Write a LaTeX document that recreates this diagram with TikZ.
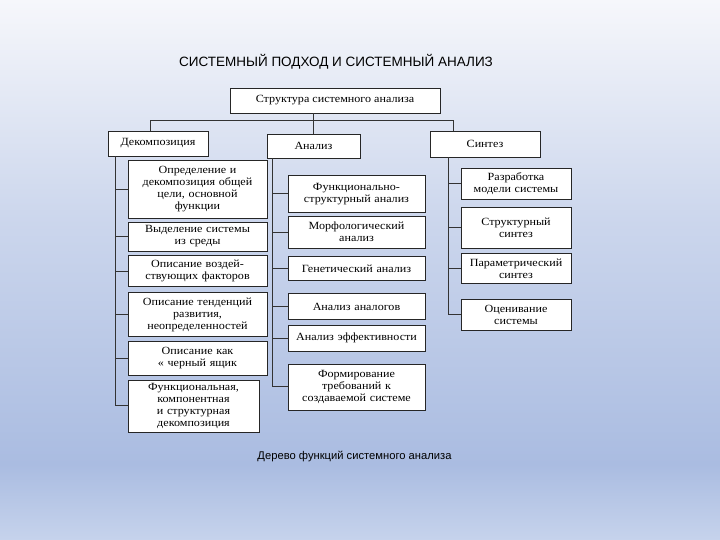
\documentclass[tikz,border=0pt]{standalone}
\usepackage{fontspec}
\setmainfont[FakeStretch=1.1]{Liberation Serif}
\newfontfamily\slidefont{Liberation Sans}
\usepackage{xcolor}
\usetikzlibrary{positioning,calc}

\definecolor{bgtop}{HTML}{F6F7FB}
\definecolor{bgmid}{HTML}{AABCE1}
\definecolor{bgbot}{HTML}{C6D3EC}
\pgfdeclareverticalshading{slidebg}{100bp}{color(0bp)=(bgbot); color(25bp)=(bgbot);
  color(32bp)=(bgmid); color(55bp)=(bgmid!55!bgtop); color(75bp)=(bgtop);
  color(100bp)=(bgtop)}

\begin{document}
\begin{tikzpicture}[x=1pt,y=-1pt,
  fbox/.style={rectangle, draw=black!85, fill=white, line width=0.7pt,
               inner sep=1pt, align=center, font=\fontsize{11}{12}\selectfont},
  colL/.style={fbox, minimum width=139pt, text width=135pt},
  colM/.style={fbox, minimum width=137pt, text width=133pt},
  colR/.style={fbox, minimum width=110pt, text width=106pt},
  wire/.style={draw=black!80, line width=1pt}
]
% background of the slide
\shade[shading=slidebg] (0,0) rectangle (720,540);
\useasboundingbox (0,0) rectangle (720,540);

\node[font=\slidefont\fontsize{13.5}{15}\selectfont] (title) at (336,62)
  {СИСТЕМНЫЙ ПОДХОД И СИСТЕМНЫЙ АНАЛИЗ};

% heads
\node[fbox, minimum width=210pt, minimum height=25pt] (struct) at (335,100.5)
  {Структура системного анализа};
\node[fbox, minimum width=100pt, minimum height=25pt] (dec) at (158,143.5) {Декомпозиция};
\node[fbox, minimum width=93pt,  minimum height=24pt] (ana) at (313.5,146) {Анализ};
\node[fbox, minimum width=110pt, minimum height=26pt] (syn) at (485,144) {Синтез};

% decomposition column
\node[colL, minimum height=58pt, anchor=north] (d1) at (197.5,160)
  {Определение и\\декомпозиция общей\\цели, основной\\функции};
\node[colL, minimum height=29pt, below=3pt of d1] (d2) {Выделение системы\\из среды};
\node[colL, minimum height=31pt, below=4pt of d2] (d3) {Описание воздей-\\ствующих факторов};
\node[colL, minimum height=44pt, below=5pt of d3] (d4) {Описание тенденций\\развития,\\неопределенностей};
\node[colL, minimum height=34pt, below=4pt of d4] (d5) {Описание как\\« черный ящик};
\node[colL, minimum height=52pt, minimum width=131pt, text width=127pt,
      below=4pt of d5.south west, anchor=north west] (d6)
  {Функциональная,\\компонентная\\и структурная\\декомпозиция};

% analysis column
\node[colM, minimum height=37pt, anchor=north] (a1) at (356.5,175)
  {Функционально-\\структурный анализ};
\node[colM, minimum height=32pt, below=3pt of a1]  (a2) {Морфологический\\анализ};
\node[colM, minimum height=24pt, below=8pt of a2]  (a3) {Генетический анализ};
\node[colM, minimum height=26pt, below=12pt of a3] (a4) {Анализ аналогов};
\node[colM, minimum height=26pt, below=5pt of a4]  (a5) {Анализ эффективности};
\node[colM, minimum height=46pt, below=12pt of a5] (a6)
  {Формирование\\требований к\\создаваемой системе};

% synthesis column
\node[colR, minimum height=31pt, anchor=north] (s1) at (516,168)
  {Разработка\\модели системы};
\node[colR, minimum height=41pt, below=7pt of s1]  (s2) {Структурный\\синтез};
\node[colR, minimum height=30pt, below=5pt of s2]  (s3) {Параметрический\\синтез};
\node[colR, minimum height=31pt, below=15pt of s3] (s4) {Оценивание\\системы};

\node[font=\slidefont\fontsize{11.2}{13}\selectfont] (cap) at (354.5,457)
  {Дерево функций системного анализа};

% connectors
\coordinate (busL) at (150,121);
\coordinate (busR) at (453,121);
\coordinate (trL) at (115,0);
\coordinate (trM) at (272,0);
\coordinate (trR) at (448,0);

\draw[wire] (busL |- dec.north) -- (busL) -- (busR) -- (busR |- syn.north);
\draw[wire] (struct.south -| ana) -- (ana.north);

\draw[wire] (trL |- dec.south) -- (trL |- d6.west);
\foreach \b in {d1,d2,d3,d4,d5,d6}
  \draw[wire] (trL |- \b.west) -- (\b.west);

\draw[wire] (trM |- ana.south) -- (trM |- a6.west);
\foreach \b in {a1,a2,a3,a4,a5,a6}
  \draw[wire] (trM |- \b.west) -- (\b.west);

\draw[wire] (trR |- syn.south) -- (trR |- s4.west);
\foreach \b in {s1,s2,s3,s4}
  \draw[wire] (trR |- \b.west) -- (\b.west);

\end{tikzpicture}
\end{document}
